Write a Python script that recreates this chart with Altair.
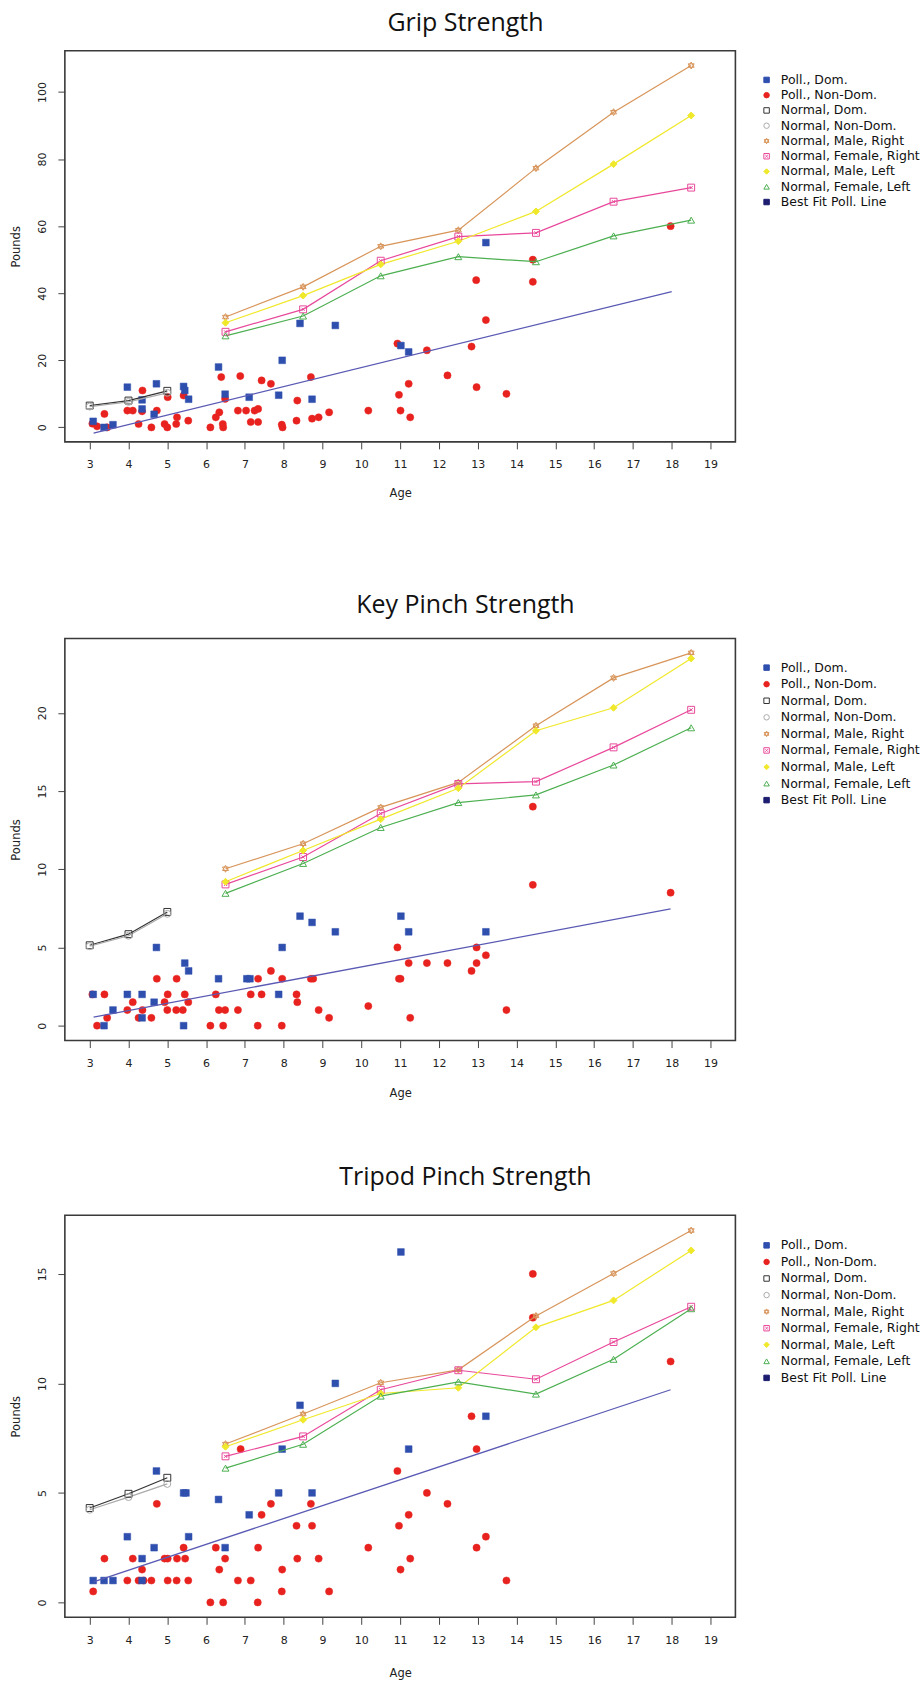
import altair as alt
import pandas as pd

# ---------------- shared definitions ----------------
SERIES = ["Poll., Dom.", "Poll., Non-Dom.", "Normal, Dom.", "Normal, Non-Dom.",
          "Normal, Male, Right", "Normal, Female, Right", "Normal, Male, Left",
          "Normal, Female, Left", "Best Fit Poll. Line"]
STAR = "M0,-1L0.866,0.5L-0.866,0.5ZM0,1L-0.866,-0.5L0.866,-0.5Z"
SQX = "M-1,-1L1,-1L1,1L-1,1ZM-0.45,-0.45L0.45,0.45M0.45,-0.45L-0.45,0.45"
FILLS = ["#2f4fae", "#e8231f", "transparent", "transparent", "transparent",
         "transparent", "#f0e82a", "transparent", "#1c1c70"]
STROKES = ["#2f4fae", "#e8231f", "#333333", "#aaaaaa", "#d8955a",
           "#e8489a", "#f0e82a", "#4caf50", "#1c1c70"]
SHAPES = ["square", "circle", "square", "circle", STAR, SQX, "diamond",
          "triangle-up", "square"]
NORMAL_SERIES = SERIES[2:8]
NORMAL_LINE_COLORS = ["#333333", "#aaaaaa", "#d8955a", "#e8489a", "#f0e82a", "#4caf50"]
BESTFIT_COLOR = "#5a5ab4"

AGES_NORMAL = [6.5, 8.5, 10.5, 12.5, 14.5, 16.5, 18.5]
AGES_YOUNG = [3, 4, 5]
X_TICKS = list(range(3, 20))
X_DOMAIN = [2.36, 19.64]

# ---------------- Grip Strength ----------------
grip_dom_age = [3.09, 3.37, 3.6, 3.97, 4.35, 4.35, 4.72, 4.66, 5.42, 5.45, 5.55, 6.32, 6.49,
                7.11, 7.87, 7.96, 8.42, 8.73, 9.33, 11.02, 11.22, 13.21]
grip_dom_val = [1.8, 0, 0.8, 12, 8.2, 5.5, 13, 3.9, 12.2, 11, 8.4, 18, 9.9,
                9, 9.6, 20, 31, 8.4, 30.4, 24.4, 22.5, 55.1]
grip_nd_age = [3.07, 3.19, 3.45, 3.38, 3.97, 4.11, 4.26, 4.36, 4.35, 4.59, 4.73, 4.93, 5.0,
               5.01, 5.25, 5.23, 5.42, 5.54, 6.11, 6.25, 6.34, 6.39, 6.43, 6.44, 6.49, 6.82,
               6.88, 7.03, 7.15, 7.25, 7.34, 7.34, 7.43, 7.67, 7.95, 7.97, 8.35, 8.33, 8.70,
               8.73, 8.9, 9.17, 10.18, 10.93, 10.97, 11.01, 11.22, 11.26, 11.69, 12.22, 12.84,
               12.96, 12.97, 13.21, 13.74, 14.42, 14.42, 17.97]
grip_nd_val = [1.1, 0.3, 0, 4, 5, 5, 1, 11, 4.8, 0, 5, 1, 0,
               9, 3, 1, 9.5, 2, 0, 3, 4.5, 15, 1, 0, 8.5, 5,
               15.3, 5, 1.6, 5, 5.5, 1.6, 14, 13, 0.8, 0, 8, 2, 15,
               2.6, 3, 4.5, 5, 25, 9.7, 5, 13, 3, 23, 15.5, 24.1,
               43.9, 12, 32, 10, 50, 43.4, 60]
grip_norm_dom = [6.5, 8.0, 10.9]
grip_norm_nd = [6.2, 7.6, 10.3]
grip_male_right = [32.9, 41.9, 54.0, 58.8, 77.3, 94.0, 107.9]
grip_female_right = [28.5, 35.2, 49.7, 56.9, 58.0, 67.3, 71.5]
grip_male_left = [31.2, 39.3, 48.6, 55.5, 64.4, 78.5, 93.0]
grip_female_left = [27.3, 33.2, 45.2, 50.9, 49.4, 57.1, 61.8]
grip_fit_age = [3.1, 18.0]
grip_fit_val = [-1.7, 40.5]
grip_y_ticks = [0, 20, 40, 60, 80, 100]
grip_y_domain = [-4.32, 112.32]

# ---------------- Key Pinch Strength ----------------
key_dom_age = [3.09, 3.37, 3.6, 3.97, 4.35, 4.35, 4.72, 4.66, 5.42, 5.45, 5.55, 6.32, 7.05,
               7.13, 7.87, 7.96, 8.42, 8.73, 9.33, 11.02, 11.22, 13.21]
key_dom_val = [2.0, 0, 1.0, 2.0, 2.0, 0.5, 5.0, 1.5, 0, 4.0, 3.5, 3.0, 3.0,
               3.0, 2.0, 5.0, 7.0, 6.6, 6.0, 7.0, 6.0, 6.0]
key_nd_age = [3.07, 3.19, 3.38, 3.45, 3.97, 4.11, 4.26, 4.36, 4.59, 4.73, 4.93, 5.01, 5.0,
              5.24, 5.23, 5.4, 5.45, 5.54, 6.11, 6.25, 6.33, 6.49, 6.44, 6.82, 7.15, 7.34,
              7.33, 7.43, 7.67, 7.96, 7.95, 8.33, 8.35, 8.70, 8.76, 8.9, 9.17, 10.18, 10.93,
              10.97, 11.01, 11.22, 11.26, 11.69, 12.22, 12.84, 12.97, 12.97, 13.21, 13.74,
              14.42, 14.42, 17.97]
key_nd_val = [2.0, 0, 2.0, 0.5, 1.0, 1.5, 0.5, 1.0, 0.5, 3.0, 1.5, 2.0, 1.0,
              3.0, 1.0, 1.0, 2.0, 1.5, 0, 2.0, 1.0, 1.0, 0, 1.0, 2.0, 3.0,
              0, 2.0, 3.5, 3.0, 0, 2.0, 1.5, 3.0, 3.0, 1.0, 0.5, 1.25, 5.0,
              3.0, 3.0, 4.0, 0.5, 4.0, 4.0, 3.5, 5.0, 4.0, 4.5, 1.0,
              14.0, 9.0, 8.5]
key_norm_dom = [5.14, 5.85, 7.27]
key_norm_nd = [5.08, 5.75, 7.15]
key_male_right = [10.03, 11.63, 13.95, 15.55, 19.17, 22.23, 23.83]
key_female_right = [9.03, 10.78, 13.56, 15.45, 15.6, 17.79, 20.19]
key_male_left = [9.2, 11.2, 13.2, 15.18, 18.85, 20.32, 23.47]
key_female_left = [8.46, 10.37, 12.67, 14.26, 14.75, 16.66, 19.04]
key_fit_age = [3.1, 17.97]
key_fit_val = [0.55, 7.46]
key_y_ticks = [0, 5, 10, 15, 20]
key_y_domain = [-0.952, 24.752]

# ---------------- Tripod Pinch Strength ----------------
tri_dom_age = [3.09, 3.37, 3.6, 3.97, 4.35, 4.35, 4.72, 4.66, 5.42, 5.48, 5.55, 6.32, 6.49,
               7.11, 7.87, 7.96, 8.42, 8.73, 9.33, 11.02, 11.22, 13.21]
tri_dom_val = [1.0, 1.0, 1.0, 3.0, 2.0, 1.0, 6.0, 2.5, 5.0, 5.0, 3.0, 4.7, 2.5,
               4.0, 5.0, 7.0, 9.0, 5.0, 10.0, 16.0, 7.0, 8.5]
tri_nd_age = [3.09, 3.38, 3.97, 4.11, 4.26, 4.35, 4.39, 4.59, 4.73, 4.93, 5.01, 5.01, 5.25,
              5.24, 5.42, 5.46, 5.54, 6.11, 6.25, 6.34, 6.44, 6.49, 6.82, 6.89, 7.15, 7.34,
              7.33, 7.43, 7.67, 7.96, 7.95, 8.33, 8.35, 8.70, 8.73, 8.9, 9.17, 10.18, 10.93,
              10.97, 11.01, 11.22, 11.26, 11.69, 12.22, 12.84, 12.97, 12.97, 13.21, 13.74,
              14.42, 14.42, 17.97]
tri_nd_val = [0.5, 2.0, 1.0, 2.0, 1.0, 1.5, 1.0, 1.0, 4.5, 2.0, 2.0, 1.0, 2.0,
              1.0, 2.5, 2.0, 1.0, 0, 2.5, 1.5, 0, 2.0, 1.0, 7.0, 1.0, 2.5,
              0, 4.0, 4.5, 1.5, 0.5, 3.5, 2.0, 4.5, 3.5, 2.0, 0.5, 2.5, 6.0,
              3.5, 1.5, 4.0, 2.0, 5.0, 4.5, 8.5, 7.0, 2.5, 3.0, 1.0,
              15.0, 13.0, 11.0]
tri_norm_dom = [4.31, 4.96, 5.69]
tri_norm_nd = [4.23, 4.81, 5.41]
tri_male_right = [7.23, 8.6, 10.03, 10.62, 13.08, 15.02, 16.98]
tri_female_right = [6.67, 7.58, 9.71, 10.6, 10.19, 11.89, 13.5]
tri_male_left = [7.11, 8.34, 9.54, 9.8, 12.56, 13.79, 16.07]
tri_female_left = [6.13, 7.22, 9.42, 10.07, 9.51, 11.1, 13.41]
tri_fit_age = [3.1, 17.97]
tri_fit_val = [0.94, 9.71]
tri_y_ticks = [0, 5, 10, 15]
tri_y_domain = [-0.68, 17.68]

AXIS_FONT = "DejaVu Sans"
PLOT_W = 672


def make_panel(title, dom_age, dom_val, nd_age, nd_val, norm_dom, norm_nd,
               mr, fr, ml, fl, fit_age, fit_val, y_ticks, y_domain, height,
               title_offset, legend_y, row_pad, x_title_pad):
    df_dom = pd.DataFrame({"age": dom_age, "value": dom_val, "series": SERIES[0]})
    df_nd = pd.DataFrame({"age": nd_age, "value": nd_val, "series": SERIES[1]})
    rows = []
    for a, v in zip(AGES_YOUNG, norm_dom):
        rows.append({"age": a, "value": v, "series": SERIES[2]})
    for a, v in zip(AGES_YOUNG, norm_nd):
        rows.append({"age": a, "value": v, "series": SERIES[3]})
    for name, vals in zip(SERIES[4:8], [mr, fr, ml, fl]):
        for a, v in zip(AGES_NORMAL, vals):
            rows.append({"age": a, "value": v, "series": name})
    df_norm = pd.DataFrame(rows)
    df_fit = pd.DataFrame({"age": fit_age, "value": fit_val})

    legend = alt.Legend(orient="none", legendX=PLOT_W + 25, legendY=legend_y, title=None,
                        labelFont=AXIS_FONT, labelFontSize=12.5, labelColor="#111",
                        symbolSize=30, symbolStrokeWidth=1, rowPadding=row_pad,
                        labelOffset=8, padding=0, symbolLimit=0)
    x = alt.X("age:Q", scale=alt.Scale(domain=X_DOMAIN, nice=False, zero=False),
              axis=alt.Axis(values=X_TICKS, title="Age", grid=False, domain=False,
                            tickSize=7, tickColor="#444", labelPadding=10,
                            labelFont=AXIS_FONT, labelFontSize=11, labelColor="#222",
                            labelFlush=False, labelOverlap=False,
                            titleFont=AXIS_FONT, titleFontSize=11.5,
                            titleFontWeight="normal", titleColor="#222",
                            titlePadding=x_title_pad))
    y = alt.Y("value:Q", scale=alt.Scale(domain=y_domain, nice=False, zero=False),
              axis=alt.Axis(values=y_ticks, title="Pounds", grid=False, domain=False,
                            tickSize=7, tickColor="#444", labelPadding=12,
                            labelAngle=270, labelAlign="center",
                            labelBaseline="alphabetic",
                            labelFont=AXIS_FONT, labelFontSize=11, labelColor="#222",
                            labelFlush=False, labelOverlap=False,
                            titleFont=AXIS_FONT, titleFontSize=11.5,
                            titleFontWeight="normal", titleColor="#222",
                            titlePadding=15))
    fill = alt.Fill("series:N", scale=alt.Scale(domain=SERIES, range=FILLS), legend=legend)
    stroke = alt.Stroke("series:N", scale=alt.Scale(domain=SERIES, range=STROKES), legend=legend)
    shape = alt.Shape("series:N", scale=alt.Scale(domain=SERIES, range=SHAPES), legend=legend)

    red = alt.Chart(df_nd).mark_point(filled=True, size=52, opacity=1, strokeWidth=0.5).encode(
        x=x, y=y, fill=fill, stroke=stroke, shape=shape)
    blue = alt.Chart(df_dom).mark_point(filled=True, size=46, opacity=1, strokeWidth=0.5).encode(
        x=x, y=y, fill=fill, stroke=stroke, shape=shape)
    lines = alt.Chart(df_norm).mark_line(strokeWidth=1.2).encode(
        x=x, y=y,
        color=alt.Color("series:N", scale=alt.Scale(domain=NORMAL_SERIES, range=NORMAL_LINE_COLORS),
                        legend=None))
    pts = alt.Chart(df_norm).mark_point(filled=True, size=48, opacity=1, strokeWidth=1).encode(
        x=x, y=y, fill=fill, stroke=stroke, shape=shape)
    fit = alt.Chart(df_fit).mark_line(color=BESTFIT_COLOR, strokeWidth=1.3).encode(x=x, y=y)

    return alt.layer(red, blue, lines, pts, fit).properties(
        width=PLOT_W, height=height,
        title=alt.TitleParams(title, font="Open Sans", fontSize=25, fontWeight="normal",
                              color="#111", anchor="middle", frame="bounds",
                              baseline="alphabetic", offset=title_offset))


p1 = make_panel("Grip Strength", grip_dom_age, grip_dom_val, grip_nd_age, grip_nd_val,
                grip_norm_dom, grip_norm_nd, grip_male_right, grip_female_right,
                grip_male_left, grip_female_left, grip_fit_age, grip_fit_val,
                grip_y_ticks, grip_y_domain, 392, -5, 23, 2.3, 18)
p2 = make_panel("Key Pinch Strength", key_dom_age, key_dom_val, key_nd_age, key_nd_val,
                key_norm_dom, key_norm_nd, key_male_right, key_female_right,
                key_male_left, key_female_left, key_fit_age, key_fit_val,
                key_y_ticks, key_y_domain, 403, 0, 23, 3.6, 19)
p3 = make_panel("Tripod Pinch Strength", tri_dom_age, tri_dom_val, tri_nd_age, tri_nd_val,
                tri_norm_dom, tri_norm_nd, tri_male_right, tri_female_right,
                tri_male_left, tri_female_left, tri_fit_age, tri_fit_val,
                tri_y_ticks, tri_y_domain, 403, 5, 24, 3.6, 22)

RES = dict(x="independent", y="independent", color="independent",
           fill="independent", stroke="independent", shape="independent")
LRES = dict(fill="independent", stroke="independent", shape="independent")

inner = alt.vconcat(p2, p3, spacing=64).resolve_scale(**RES).resolve_legend(**LRES)
chart = alt.vconcat(p1, inner, spacing=92).resolve_scale(**RES).resolve_legend(**LRES)

chart = chart.properties(
    padding={"left": 10, "top": 8, "right": 0, "bottom": 0},
    background="white",
).configure_view(stroke="#3a3a3a", strokeWidth=1.6)

chart.save("out.html", embed_options={"renderer": "svg", "actions": False})
